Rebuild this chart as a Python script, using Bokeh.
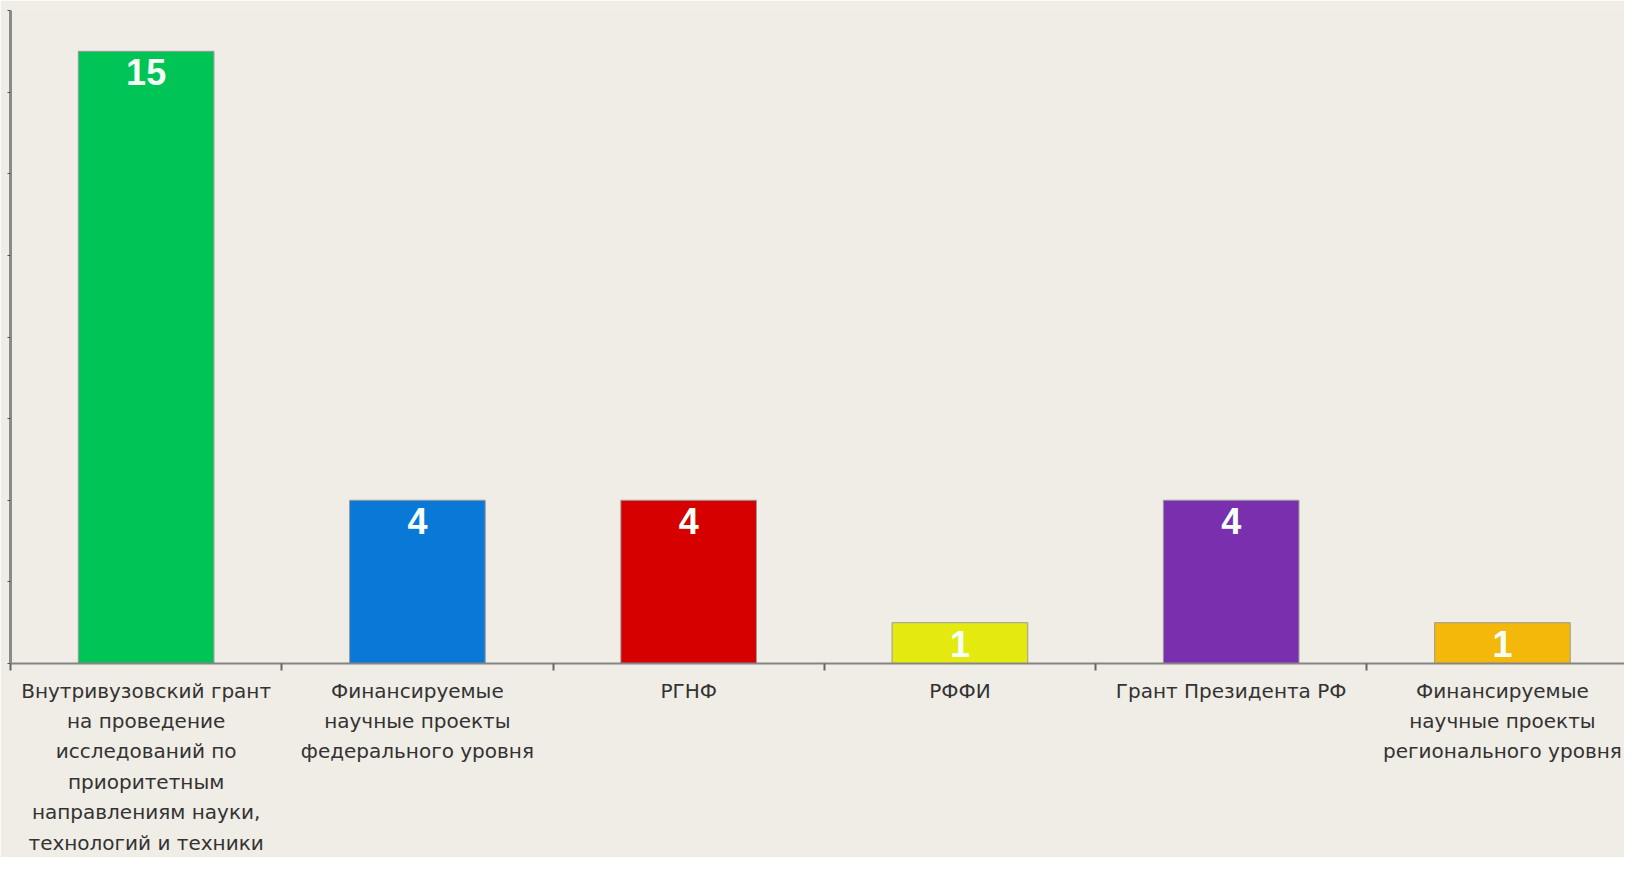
from bokeh.plotting import figure
from bokeh.models import FixedTicker, Range1d, ColumnDataSource
from bokeh.core.properties import value
from bokeh.embed import file_html
from bokeh.resources import INLINE

categories = [
    "Внутривузовский грант\nна проведение\nисследований по\nприоритетным\nнаправлениям науки,\nтехнологий и техники",
    "Финансируемые\nнаучные проекты\nфедерального уровня",
    "РГНФ",
    "РФФИ",
    "Грант Президента РФ",
    "Финансируемые\nнаучные проекты\nрегионального уровня",
]
values = [15, 4, 4, 1, 4, 1]
colors = ["#00C455", "#0A78D6", "#D60000", "#E4EA10", "#7A30AE", "#F4B80A"]
y_ticks = [0, 2, 4, 6, 8, 10, 12, 14, 16]

BG = "#F0ECE6"

xs = [i + 0.5 for i in range(len(categories))]
src = ColumnDataSource(dict(x=xs, top=values, color=colors,
                            label=[str(v) for v in values]))

p = figure(width=1624, height=857, output_backend="svg", toolbar_location=None,
           x_range=Range1d(0, 5.95), y_range=Range1d(0, 16))
p.min_border_left = 10
p.min_border_right = 0
p.min_border_top = 10
p.min_border_bottom = 0
p.background_fill_color = BG
p.border_fill_color = BG
p.outline_line_color = None
p.xgrid.visible = False
p.ygrid.visible = False

p.vbar(x="x", top="top", width=0.5, bottom=0, source=src, fill_color="color",
       line_color="#9a9a9a", line_width=1)

p.text(x="x", y="top", text="label", source=src, text_align="center",
       text_baseline="top", y_offset=8, text_color="#F4FFF6",
       text_font=value("Liberation Sans"), text_font_style="bold",
       text_font_size="36px")

# x axis
xa = p.xaxis[0]
xa.ticker = FixedTicker(ticks=xs, minor_ticks=list(range(len(categories) + 1)))
xa.major_label_overrides = {x: c for x, c in zip(xs, categories)}
xa.major_tick_line_color = None
xa.major_tick_out = 0
xa.major_tick_in = 0
xa.minor_tick_out = 7
xa.minor_tick_in = 0
xa.minor_tick_line_color = "#666666"
xa.minor_tick_line_width = 2
xa.axis_line_color = "#858585"
xa.axis_line_width = 2
xa.major_label_text_font = "DejaVu Sans"
xa.major_label_text_font_size = "20px"
xa.major_label_text_color = "#333333"
xa.major_label_text_line_height = 1.27
xa.major_label_standoff = 8
xa.major_label_text_align = "center"

# y axis
ya = p.yaxis[0]
ya.ticker = FixedTicker(ticks=y_ticks)
ya.major_label_overrides = {t: "" for t in y_ticks}
ya.major_label_standoff = 0
ya.major_tick_out = 3
ya.major_tick_in = 0
ya.minor_tick_line_color = None
ya.major_tick_line_color = "#555555"
ya.axis_line_color = "#8A8A8A"
ya.axis_line_width = 3

open("out.html", "w").write(file_html(p, INLINE))
